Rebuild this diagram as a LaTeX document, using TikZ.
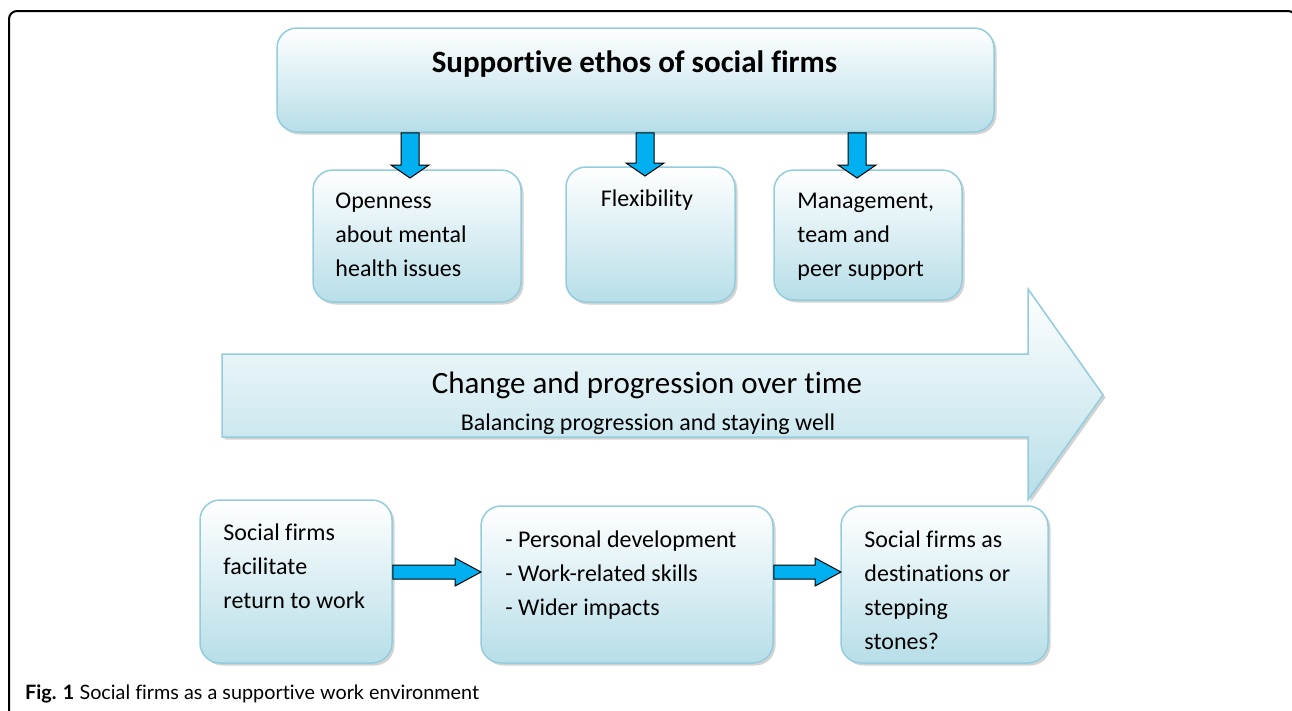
\documentclass[tikz,border=0pt]{standalone}
\usepackage{fontspec}
\setmainfont{Carlito}[Ligatures=NoCommon]
\newfontfamily\didascalia{Lato}[Ligatures=NoCommon]
\usepackage{tikz}
\usetikzlibrary{shadows, calc}
\definecolor{bordo}{HTML}{93CDDD}
\definecolor{fondo}{HTML}{B7DEE8}
\definecolor{azzurro}{HTML}{00B0F0}
\tikzset{
  scatola/.style = {draw=bordo, line width=1.5pt, rounded corners=20pt, top color=white, bottom color=fondo,
    drop shadow={shadow xshift=2.5pt, shadow yshift=-2.5pt, opacity=0.35}},
  testo/.style = {inner sep=0pt, align=left, font=\fontsize{24}{34}\selectfont, execute at begin node={\rule{0pt}{19pt}}},
  frecciablu/.style = {draw=black, line width=1pt, fill=azzurro},
}
\newcommand{\frecciaGiu}[2]{
\draw[frecciablu] let \p1 = (#1), \p2 = (#2) in (\x1-9pt,\y1) -- (\x1-9pt,\y2+13pt) -- (\x1-19pt,\y2+13pt) -- (\x1,\y2) -- (\x1+19pt,\y2+13pt) -- (\x1+9pt,\y2+13pt) -- (\x1+9pt,\y1) -- cycle;
}
\newcommand{\frecciaDestra}[2]{
\draw[frecciablu] let \p1 = (#1), \p2 = (#2) in (\x1,\y2+7pt) -- (\x2-26pt,\y2+7pt) -- (\x2-26pt,\y2+14pt) -- (\x2,\y2) -- (\x2-26pt,\y2-14pt) -- (\x2-26pt,\y2-7pt) -- (\x1,\y2-7pt) -- cycle;
}
\begin{document}
\begin{tikzpicture}[x=1pt, y=-1pt]
    \useasboundingbox (0,0) rectangle (1292,710);
    % Cornice
    \draw[line width=2pt, rounded corners=8pt] (9,715) -- (9,11) -- (1296,11) -- (1296,715);
    % Riquadro in alto
    \node[scatola, minimum width=717, minimum height=104] (ethos) at (635.5,80) {};
    \node[font=\bfseries\fontsize{31}{36}\selectfont, inner sep=0pt, anchor=base] (ethosT) at (634.5,72) {Supportive ethos of social firms};
    % Scatole centrali
    \node[scatola, minimum width=208, minimum height=132] (open) at (417,236) {};
    \node[scatola, minimum width=169, minimum height=135] (flex) at (650.5,234.5) {};
    \node[scatola, minimum width=188, minimum height=130] (supp) at (868,235) {};
    \node[testo, anchor=north west] (openT) at ($(open.north west)+(23,23.7)$) {Openness\\about mental\\health issues};
    \node[testo, anchor=north] (flexT) at ($(flex.north)+(-3.5,20.7)$) {Flexibility};
    \node[testo, anchor=north west] (suppT) at ($(supp.north west)+(24,23.7)$) {Management,\\team and\\peer support};
    % Frecce verso il basso
    \coordinate (g1) at (410,178);
    \coordinate (g2) at (645,176);
    \coordinate (g3) at (857,178);
    \frecciaGiu{ethos.south -| g1}{g1}
    \frecciaGiu{ethos.south -| g2}{g2}
    \frecciaGiu{ethos.south -| g3}{g3}
    % Freccione
    \draw[draw=bordo, line width=1.5pt, top color=white, bottom color=fondo,
      drop shadow={shadow xshift=2.5pt, shadow yshift=-2.5pt, opacity=0.35}]
      (222,354) -- (1028,354) -- (1028,289) -- (1103,395) -- (1028,500) -- (1028,437) -- (222,437) -- cycle;
    \node[anchor=base, inner sep=0pt, font=\fontsize{31}{36}\selectfont] (change) at (647,393) {Change and progression over time};
    \node[anchor=base, inner sep=0pt, font=\fontsize{24}{34}\selectfont] (balance) at (648,430) {Balancing progression and staying well};
    % Scatole in basso
    \node[scatola, minimum width=192, minimum height=163] (ritorno) at (296,581.5) {};
    \node[scatola, minimum width=292, minimum height=157] (sviluppo) at (627,584.5) {};
    \node[scatola, minimum width=207, minimum height=157] (meta) at (944.5,584.5) {};
    \node[testo, anchor=north west] (ritornoT) at ($(ritorno.north west)+(24,24.7)$) {Social firms\\facilitate\\return to work};
    \node[testo, anchor=north west] (sviluppoT) at ($(sviluppo.north west)+(25,25.7)$) {- Personal development\\- Work-related skills\\- Wider impacts};
    \node[testo, anchor=north west] (metaT) at ($(meta.north west)+(24,25.7)$) {Social firms as\\destinations or\\stepping\\stones?};
    % Frecce orizzontali
    \coordinate (d1) at (481,572);
    \coordinate (d2) at (841,572);
    \frecciaDestra{ritorno.east}{d1}
    \frecciaDestra{sviluppo.east}{d2}
    % Didascalia
    \node[anchor=base west, inner sep=0pt, font=\didascalia\fontsize{19.8}{22}\selectfont] (fig) at (25,699) {\textbf{Fig. 1} Social firms as a supportive work environment};
\end{tikzpicture}
\end{document}
